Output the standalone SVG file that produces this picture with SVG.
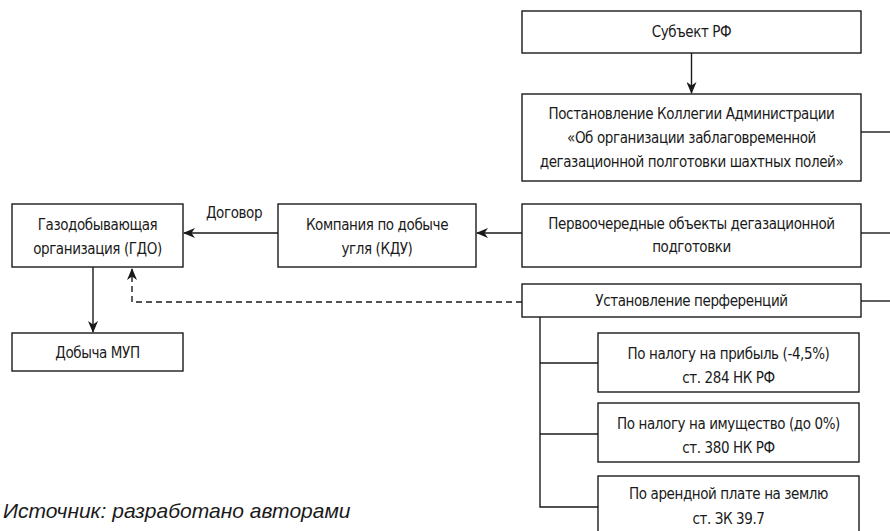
<svg xmlns="http://www.w3.org/2000/svg" width="890" height="531" viewBox="0 0 890 531">
<style>
.box{fill:#fff;stroke:#1a1a1a;stroke-width:1.4}
.ln{fill:none;stroke:#1a1a1a;stroke-width:1.4}
.dash{fill:none;stroke:#1a1a1a;stroke-width:1.4;stroke-dasharray:6 4}
text{font-family:"DejaVu Sans Condensed","Liberation Sans",sans-serif;font-size:15px;letter-spacing:-0.4px;fill:#1a1a1a;text-anchor:middle}
.src{font-family:"Liberation Sans","DejaVu Sans",sans-serif;font-style:italic;font-size:21px;letter-spacing:0;text-anchor:start}
</style>
<defs>
<marker id="ah" viewBox="0 0 12 10" markerWidth="12" markerHeight="10" refX="11" refY="5" orient="auto" markerUnits="userSpaceOnUse">
<path d="M0,0 L12,5 L0,10 L3.5,5 z" fill="#1a1a1a"/>
</marker>
</defs>
<g id="connectors">
<line class="ln" x1="691.5" y1="53" x2="691.5" y2="93" marker-end="url(#ah)"/>
<line class="ln" x1="861" y1="132" x2="890" y2="132"/>
<line class="ln" x1="861" y1="233" x2="890" y2="233"/>
<line class="ln" x1="861" y1="301" x2="890" y2="301"/>
<line class="ln" x1="522" y1="233" x2="477" y2="233" marker-end="url(#ah)"/>
<line class="ln" x1="278" y1="233" x2="184" y2="233" marker-end="url(#ah)"/>
<line class="ln" x1="93" y1="267" x2="93" y2="332" marker-end="url(#ah)"/>
<polyline class="dash" points="522,302 132,302 132,269" marker-end="url(#ah)"/>
<polyline class="ln" points="540,317 540,507 598,507"/>
<line class="ln" x1="540" y1="363" x2="598" y2="363"/>
<line class="ln" x1="540" y1="434" x2="598" y2="434"/>
</g>
<g id="n-subject"><rect class="box" x="522" y="11" width="339" height="42"/><text x="691.5" y="37">Субъект РФ</text></g>
<g id="n-decree"><rect class="box" x="522" y="94" width="339" height="87"/>
<text x="691.5" y="119">Постановление Коллегии Администрации</text>
<text x="691.5" y="143">«Об организации заблаговременной</text>
<text x="691.5" y="167">дегазационной полготовки шахтных полей»</text></g>
<g id="n-gdo"><rect class="box" x="12" y="204" width="171" height="63"/>
<text x="97.5" y="230">Газодобывающая</text><text x="97.5" y="254">организация (ГДО)</text></g>
<g id="n-kdu"><rect class="box" x="278" y="204" width="198" height="63"/>
<text x="377" y="230">Компания по добыче</text><text x="377" y="254">угля (КДУ)</text></g>
<text id="lbl-contract" x="234" y="218">Договор</text>
<g id="n-priority"><rect class="box" x="522" y="204" width="339" height="63"/>
<text x="691.5" y="229">Первоочередные объекты дегазационной</text><text x="691.5" y="252">подготовки</text></g>
<g id="n-pref"><rect class="box" x="522" y="284" width="339" height="33"/>
<text x="691.5" y="306">Установление перференций</text></g>
<g id="n-mup"><rect class="box" x="12" y="333" width="171" height="38"/>
<text x="97.5" y="358">Добыча МУП</text></g>
<g id="n-profit"><rect class="box" x="598" y="333" width="261" height="59"/>
<text x="728.5" y="359">По налогу на прибыль (-4,5%)</text><text x="728.5" y="383">ст. 284 НК РФ</text></g>
<g id="n-property"><rect class="box" x="598" y="403" width="261" height="59"/>
<text x="728.5" y="429">По налогу на имущество (до 0%)</text><text x="728.5" y="453">ст. 380 НК РФ</text></g>
<g id="n-land"><rect class="box" x="598" y="476" width="261" height="62"/>
<text x="728.5" y="499">По арендной плате на землю</text><text x="728.5" y="524">ст. ЗК 39.7</text></g>
<text class="src" x="3" y="518">Источник: разработано авторами</text>
</svg>
